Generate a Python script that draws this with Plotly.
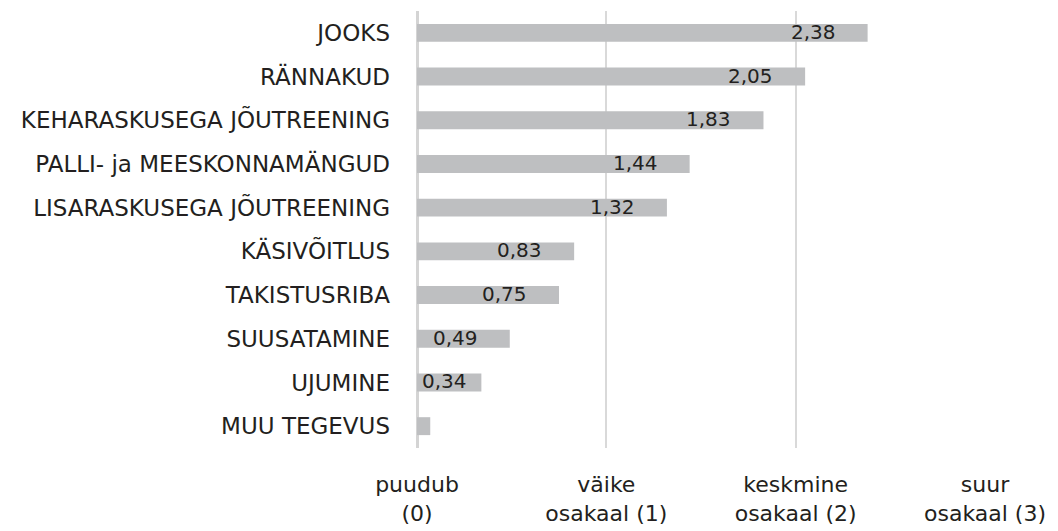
import plotly.graph_objects as go

categories = ["JOOKS", "RÄNNAKUD", "KEHARASKUSEGA JÕUTREENING", "PALLI- ja MEESKONNAMÄNGUD",
              "LISARASKUSEGA JÕUTREENING", "KÄSIVÕITLUS", "TAKISTUSRIBA", "SUUSATAMINE",
              "UJUMINE", "MUU TEGEVUS"]
values = [2.38, 2.05, 1.83, 1.44, 1.32, 0.83, 0.75, 0.49, 0.34, 0.07]
value_labels = ["2,38", "2,05", "1,83", "1,44", "1,32", "0,83", "0,75", "0,49", "0,34", ""]
tick_vals = [0, 1, 2, 3]
tick_text = ["puudub<br>(0)", "väike<br>osakaal (1)", "keskmine<br>osakaal (2)", "suur<br>osakaal (3)"]

FONT = "DejaVu Sans"
TXT = "#231F20"

fig = go.Figure(go.Bar(
    y=categories, x=values, orientation="h",
    marker=dict(color="#BEBFC1", line=dict(width=0)),
    width=0.41, hoverinfo="skip",
))

annotations = []
for cat, v, lab in zip(categories, values, value_labels):
    if not lab:
        continue
    if v * 189.3 - 30 - 44 < 4:
        annotations.append(dict(x=0, y=cat, text=lab, xanchor="left", yanchor="middle",
                                xshift=3, yshift=1, showarrow=False,
                                font=dict(family=FONT, size=20, color=TXT)))
    else:
        annotations.append(dict(x=v, y=cat, text=lab, xanchor="right", yanchor="middle",
                                xshift=-30, yshift=1, showarrow=False,
                                font=dict(family=FONT, size=20, color=TXT)))

fig.update_layout(
    width=1058, height=531,
    margin=dict(l=417, r=73, t=11, b=83),
    paper_bgcolor="white", plot_bgcolor="white",
    showlegend=False,
    annotations=annotations,
    font=dict(family=FONT, size=22, color=TXT),
    xaxis=dict(range=[0, 3], tickvals=tick_vals, ticktext=tick_text,
               showgrid=True, gridcolor="#D9D9D9", gridwidth=2,
               zeroline=True, zerolinecolor="#D4D4D4", zerolinewidth=3,
               showline=False, ticks="", ticklabelstandoff=21, automargin=False,
               tickfont=dict(family=FONT, size=22, color=TXT)),
    yaxis=dict(categoryorder="array", categoryarray=categories, autorange="reversed",
               showgrid=False, zeroline=False, showline=False, ticks="",
               ticklabelstandoff=26, automargin=False,
               tickfont=dict(family=FONT, size=23, color=TXT)),
)

fig.write_html("out.html", config={"displayModeBar": False},
               post_script="document.body.style.margin='0';")
